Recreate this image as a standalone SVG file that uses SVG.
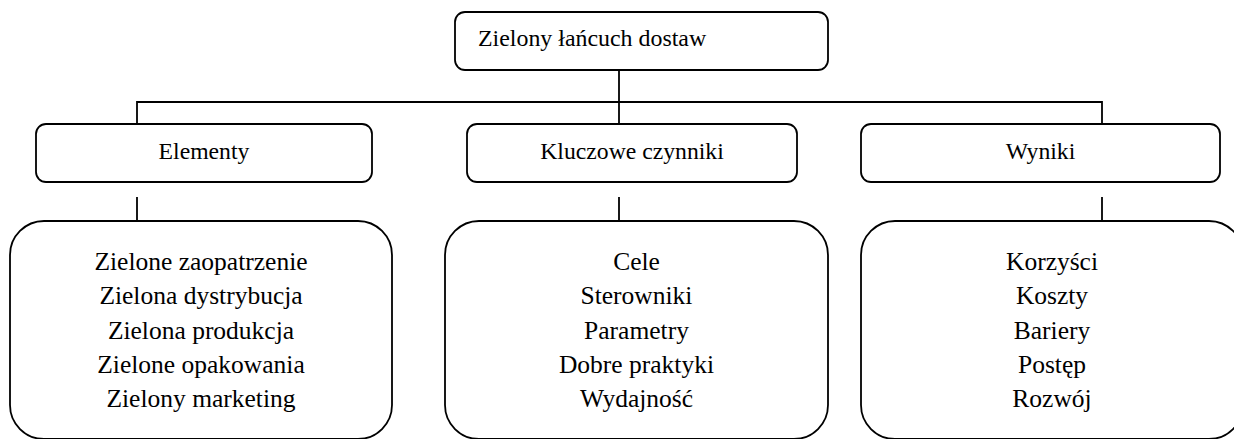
<svg xmlns="http://www.w3.org/2000/svg" width="1234" height="439" viewBox="0 0 1234 439">
<style>
.box{fill:#fff;stroke:#000;stroke-width:1.8}
.ln{stroke:#000;stroke-width:1.8;fill:none}
.h{font-size:23.7px;text-anchor:middle}
.b{font-size:25.5px;text-anchor:middle}
</style>
<rect width="1234" height="439" fill="#fff"/>
<g id="connectors">
<line class="ln" x1="619" y1="70" x2="619" y2="124"/>
<polyline class="ln" points="137,124 137,102 1102,102 1102,124"/>
<line class="ln" x1="137" y1="197" x2="137" y2="221"/>
<line class="ln" x1="619" y1="197" x2="619" y2="221"/>
<line class="ln" x1="1102" y1="197" x2="1102" y2="221"/>
</g>
<g font-family="Liberation Serif, Times New Roman, DejaVu Serif, serif" fill="#000">
<g id="root">
<rect class="box" x="455" y="12" width="373" height="58" rx="10"/>
<text x="478" y="46" font-size="23.9">Zielony łańcuch dostaw</text>
</g>
<g id="elementy">
<rect class="box" x="36" y="124" width="336" height="58" rx="10"/>
<text class="h" x="204" y="159">Elementy</text>
</g>
<g id="kluczowe">
<rect class="box" x="467" y="124" width="330" height="58" rx="10"/>
<text class="h" x="632" y="159">Kluczowe czynniki</text>
</g>
<g id="wyniki">
<rect class="box" x="861" y="124" width="359" height="58" rx="10"/>
<text class="h" x="1040.5" y="159">Wyniki</text>
</g>
<g id="elementy-list">
<rect class="box" x="10" y="221" width="382" height="218" rx="34"/>
<text class="b" x="201"><tspan x="201" y="270">Zielone zaopatrzenie</tspan><tspan x="201" y="304">Zielona dystrybucja</tspan><tspan x="201" y="339">Zielona produkcja</tspan><tspan x="201" y="373">Zielone opakowania</tspan><tspan x="201" y="407">Zielony marketing</tspan></text>
</g>
<g id="kluczowe-list">
<rect class="box" x="445" y="221" width="383" height="218" rx="34"/>
<text class="b" x="636.5"><tspan x="636.5" y="270">Cele</tspan><tspan x="636.5" y="304">Sterowniki</tspan><tspan x="636.5" y="339">Parametry</tspan><tspan x="636.5" y="373">Dobre praktyki</tspan><tspan x="636.5" y="407">Wydajność</tspan></text>
</g>
<g id="wyniki-list">
<rect class="box" x="861" y="221" width="382" height="218" rx="34"/>
<text class="b" x="1052"><tspan x="1052" y="270">Korzyści</tspan><tspan x="1052" y="304">Koszty</tspan><tspan x="1052" y="339">Bariery</tspan><tspan x="1052" y="373">Postęp</tspan><tspan x="1052" y="407">Rozwój</tspan></text>
</g>
</g>
</svg>
